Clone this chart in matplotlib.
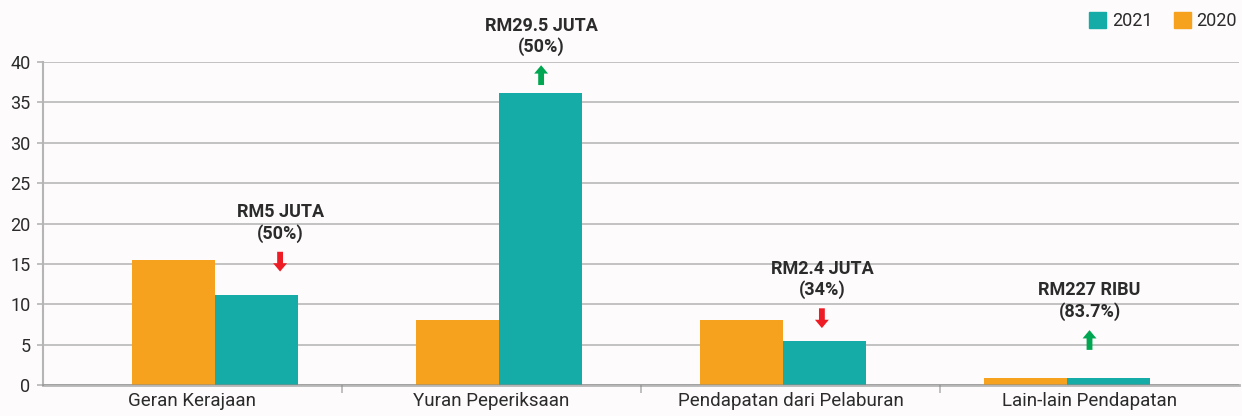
import numpy as np
import matplotlib.pyplot as plt
from matplotlib.patches import Patch

plt.rcParams['font.family'] = ['Roboto', 'DejaVu Sans']

categories = ['Geran Kerajaan', 'Yuran Peperiksaan', 'Pendapatan dari Pelaburan', 'Lain-lain Pendapatan']
values_2020 = [15.5, 8.05, 8.05, 0.87]
values_2021 = [11.15, 36.2, 5.45, 0.9]

# change labels above the 2021 bars
change_labels = ['RM5 JUTA\n(50%)', 'RM29.5 JUTA\n(50%)', 'RM2.4 JUTA\n(34%)', 'RM227 RIBU\n(83.7%)']
change_up = [False, True, False, True]

c2020 = '#f7a21e'
c2021 = '#15aba6'
bg = '#fdfbfb'
text_col = '#2b2b2b'

fig = plt.figure(figsize=(12.42, 4.16), dpi=100, facecolor=bg)
ax = fig.add_axes([0.0346, 0.0745, 0.963, 0.7764], facecolor=bg)

cat_x = np.arange(len(categories))
group_x = cat_x * 0.95 + 0.075
w = 0.278

ax.bar(group_x - w / 2, values_2020, width=w, color=c2020, zorder=2)
ax.bar(group_x + w / 2, values_2021, width=w, color=c2021, zorder=2)

ax.set_xlim(-0.5, 3.5)
ax.set_ylim(0, 40)
ax.set_yticks(range(0, 41, 5))
ax.set_xticks(cat_x)
ax.set_xticklabels(categories, fontsize=13.5, color=text_col)
ax.set_xticks([0.5, 1.5, 2.5], minor=True)
ax.tick_params(axis='x', which='major', length=0, pad=5)
ax.tick_params(axis='x', which='minor', length=6, width=1.2, color='#b5b5b5')
ax.tick_params(axis='y', length=4, width=1.2, color='#b5b5b5', pad=5,
               labelsize=13, labelcolor=text_col)

ax.grid(axis='y', color='#b8b8b8', linewidth=1.2, zorder=1)
for s in ['top', 'right']:
    ax.spines[s].set_visible(False)
ax.spines['left'].set_color('#b5b5b5')
ax.spines['left'].set_linewidth(1.5)
ax.spines['bottom'].set_color('#888888')
ax.spines['bottom'].set_alpha(0.6)
ax.spines['bottom'].set_linewidth(2)
ax.spines['bottom'].set_zorder(3)

# annotation placement (x in category units, y in data units)
ann_x = [0.293, 0.166, 0.105, 0.0]
arrow_top = [16.5, 39.6, 9.5, 6.8]
arrow_len = 2.45
text_gap = 1.1

for i in range(len(categories)):
    x = cat_x[i] + ann_x[i]
    top = arrow_top[i]
    bot = top - arrow_len
    if change_up[i]:
        start, end, col = bot, top, '#00a651'
    else:
        start, end, col = top, bot, '#ee1c25'
    ax.annotate('', xy=(x, end), xytext=(x, start), annotation_clip=False,
                arrowprops=dict(arrowstyle='simple,head_width=1.0,head_length=0.6,tail_width=0.42',
                                color=col, lw=0, shrinkA=0, shrinkB=0, mutation_scale=10))
    ax.text(x, top + text_gap, change_labels[i], ha='center', va='bottom', fontsize=13,
            fontweight='bold', color=text_col, linespacing=1.2, clip_on=False)

handles = [Patch(color=c2021, label='2021'), Patch(color=c2020, label='2020')]
fig.legend(handles=handles, loc='upper right', bbox_to_anchor=(1.009, 1.01), ncol=2,
           frameon=False, fontsize=13, handlelength=0.95, handleheight=0.95,
           handletextpad=0.3, columnspacing=1.2, labelcolor=text_col)

fig.savefig('out.png', dpi=100, facecolor=bg)
